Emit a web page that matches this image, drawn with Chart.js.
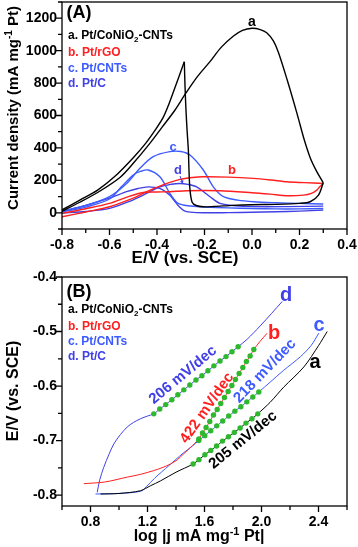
<!DOCTYPE html>
<html>
<head>
<meta charset="utf-8">
<script src="https://cdn.jsdelivr.net/npm/chart.js@4.4.1/dist/chart.umd.min.js"></script>
<style>
  html, body { margin: 0; padding: 0; background: #fff; }
  #wrap { position: relative; width: 358px; height: 547px; }
  .box { position: absolute; left: 0; width: 358px; }
  #boxA { top: 0; height: 268px; }
  #boxB { top: 268px; height: 279px; }
</style>
</head>
<body>
<div id="wrap">
  <div class="box" id="boxA"><canvas id="cvA"></canvas></div>
  <div class="box" id="boxB"><canvas id="cvB"></canvas></div>
</div>
<script>
'use strict';

const FONT = '"Liberation Sans", Arial, sans-serif';
const RED = '#ff1f1f', BLUE_C = '#3d5bff', BLUE_D = '#4040e6', GREEN = '#2eb82e';

/* ── (A) CV curves: E (V vs. SCE) and j (mA mg-1 Pt) ── */
const aFwdE = [-0.8, -0.725, -0.65, -0.556, -0.5, -0.43, -0.38, -0.324, -0.278, -0.23, -0.177, -0.13, -0.078, -0.04, 0.0, 0.035, 0.062, 0.09, 0.111, 0.147, 0.189, 0.22, 0.245, 0.27, 0.3];
const aFwdJ = [10, 65, 125, 218, 305, 428, 525, 634, 739, 840, 932, 1020, 1090, 1125, 1138, 1130, 1110, 1060, 990, 825, 615, 450, 340, 262, 185];
const aRevE = [0.3, 0.28, 0.245, 0.2, 0.1, 0.0, -0.08, -0.16, -0.205, -0.235, -0.252, -0.261, -0.265, -0.268, -0.273, -0.278, -0.282, -0.285];
const aRevJ = [185, 109, 68, 58, 52, 50, 46, 39, 37, 45, 65, 140, 250, 387, 500, 634, 780, 932];
const aTailE = [-0.285, -0.305, -0.325, -0.35, -0.375, -0.41, -0.447, -0.5, -0.577, -0.65, -0.725, -0.8];
const aTailJ = [932, 850, 770, 670, 585, 505, 430, 340, 225, 140, 78, 18];

const bFwdE = [-0.8, -0.7, -0.6, -0.5, -0.458, -0.388, -0.303, -0.25, -0.205, -0.1, 0.006, 0.08, 0.147, 0.22, 0.3];
const bFwdJ = [-25, 5, 37, 90, 120, 165, 206, 218, 222, 220, 212, 202, 191, 186, 181];
const bRevE = [0.3, 0.285, 0.273, 0.25, 0.217, 0.15, 0.076, 0.0, -0.135, -0.275, -0.346, -0.4, -0.458, -0.52, -0.6, -0.7, -0.8];
const bRevJ = [181, 160, 140, 120, 109, 105, 115, 124, 136, 136, 130, 128, 125, 100, 58, 25, -4];

const cFwdE = [-0.8, -0.7, -0.6, -0.528, -0.472, -0.416, -0.346, -0.3, -0.26, -0.205, -0.163, -0.12, -0.06, 0.006, 0.1, 0.2, 0.3];
const cFwdJ = [10, 45, 100, 181, 274, 346, 377, 378, 355, 264, 160, 99, 78, 68, 62, 58, 54];
const cRevE = [0.3, 0.2, 0.1, 0.0, -0.1, -0.2, -0.26, -0.29, -0.315, -0.346, -0.388, -0.437, -0.47, -0.5, -0.55, -0.6, -0.7, -0.8];
const cRevJ = [27, 24, 24, 26, 30, 36, 42, 48, 62, 120, 222, 264, 255, 233, 160, 85, 35, 5];

const dFwdE = [-0.8, -0.7, -0.6, -0.5, -0.458, -0.388, -0.34, -0.303, -0.27, -0.233, -0.2, -0.177, -0.135, -0.08, 0.006, 0.15, 0.3];
const dFwdJ = [-2, 8, 27, 80, 109, 160, 176, 181, 175, 160, 125, 99, 58, 45, 38, 38, 41];
const dRevE = [0.3, 0.2, 0.1, 0.0, -0.1, -0.205, -0.26, -0.285, -0.305, -0.33, -0.346, -0.388, -0.437, -0.48, -0.528, -0.6, -0.7, -0.8];
const dRevJ = [17, 10, 6, 3, 1, 0, 4, 12, 35, 80, 109, 150, 160, 150, 130, 90, 45, 8];

const aXTicks = [-0.8, -0.6, -0.4, -0.2, 0.0, 0.2, 0.4];
const aYTicks = [0, 200, 400, 600, 800, 1000, 1200];

/* ── (B) Tafel plots: log|j| and E (V vs. SCE); dots = fitted region ── */
const taAPreX = [0.87, 1.0, 1.151, 1.22, 1.291, 1.40];
const taAPreY = [-0.798, -0.797, -0.792, -0.783, -0.774, -0.758];
const taADotX = [1.52, 1.561, 1.603, 1.644, 1.685, 1.726, 1.768, 1.809, 1.85, 1.891, 1.933, 1.974];
const taADotY = [-0.743, -0.735, -0.726, -0.718, -0.710, -0.701, -0.693, -0.685, -0.677, -0.668, -0.660, -0.651];
const taAPostX = [2.06, 2.156, 2.297, 2.40, 2.461];
const taAPostY = [-0.630, -0.602, -0.565, -0.526, -0.500];

const taBPreX = [0.753, 0.9, 1.058, 1.15, 1.244, 1.31, 1.361, 1.41, 1.455, 1.5];
const taBPreY = [-0.779, -0.776, -0.767, -0.762, -0.755, -0.749, -0.743, -0.735, -0.724, -0.713];
const taBDotX = [1.56, 1.586, 1.611, 1.637, 1.663, 1.689, 1.714, 1.74, 1.766, 1.792, 1.817, 1.843, 1.869, 1.894, 1.92, 1.946];
const taBDotY = [-0.697, -0.686, -0.676, -0.665, -0.653, -0.643, -0.632, -0.621, -0.610, -0.599, -0.588, -0.577, -0.566, -0.555, -0.545, -0.533];
const taBPostX = [1.99, 2.04];
const taBPostY = [-0.518, -0.503];

const taCPreX = [0.835, 1.0, 1.151, 1.19, 1.25, 1.35, 1.45, 1.51];
const taCPreY = [-0.798, -0.797, -0.793, -0.785, -0.769, -0.746, -0.723, -0.711];
const taCDotX = [1.56, 1.602, 1.644, 1.686, 1.728, 1.77, 1.813, 1.855, 1.897, 1.939, 1.981];
const taCDotY = [-0.700, -0.691, -0.682, -0.673, -0.664, -0.655, -0.646, -0.638, -0.629, -0.620, -0.611];
const taCPostX = [2.06, 2.156, 2.274, 2.35, 2.402];
const taCPostY = [-0.593, -0.571, -0.546, -0.525, -0.503];

const taDPreX = [0.847, 0.865, 0.893, 0.93, 0.964, 1.01, 1.058, 1.10, 1.151, 1.20];
const taDPreY = [-0.795, -0.772, -0.749, -0.725, -0.706, -0.689, -0.675, -0.667, -0.660, -0.655];
const taDDotX = [1.244, 1.286, 1.328, 1.371, 1.413, 1.455, 1.497, 1.54, 1.582, 1.624, 1.666, 1.709, 1.751, 1.793, 1.836];
const taDDotY = [-0.651, -0.642, -0.634, -0.625, -0.616, -0.607, -0.598, -0.589, -0.581, -0.572, -0.563, -0.554, -0.546, -0.537, -0.528];
const taDPostX = [1.90, 1.99, 2.07, 2.145];
const taDPostY = [-0.514, -0.490, -0.467, -0.445];

const bXTicks = [0.8, 1.2, 1.6, 2.0, 2.4];
const bYTicks = [-0.8, -0.7, -0.6, -0.5, -0.4];

const legendParts = [
  [['a. Pt/CoNiO', ''], ['2', 'sub'], ['-CNTs', '']],
  [['b. Pt/rGO', '']],
  [['c. Pt/CNTs', '']],
  [['d. Pt/C', '']]
];
const legendColors = ['#000', RED, BLUE_C, BLUE_D];

Chart.defaults.font.family = FONT;
Chart.defaults.font.weight = 'bold';
Chart.defaults.color = '#000';

const pts = (xs, ys) => xs.map((v, i) => ({ x: v, y: ys[i] }));
const line = (xs, ys, color, width) => ({
  data: pts(xs, ys), borderColor: color, borderWidth: width, showLine: true,
  pointRadius: 0, tension: 0.3, fill: false, order: 1
});
const dots = (xs, ys) => ({
  data: pts(xs, ys), showLine: false, pointRadius: 2.7,
  pointBackgroundColor: GREEN, pointBorderWidth: 0, order: 0
});

function drawRich(ctx, parts, x, y, size, color, align) {
  const big = `bold ${size}px ${FONT}`;
  const small = `bold ${Math.round(size * 0.66)}px ${FONT}`;
  let w = 0;
  parts.forEach(([t, k]) => { ctx.font = k ? small : big; w += ctx.measureText(t).width; });
  let cx = align === 'center' ? x - w / 2 : x;
  ctx.fillStyle = color;
  ctx.textAlign = 'left';
  ctx.textBaseline = 'middle';
  parts.forEach(([t, k]) => {
    ctx.font = k ? small : big;
    const dy = k === 'sup' ? -size * 0.32 : k === 'sub' ? size * 0.3 : 0;
    ctx.fillText(t, cx, y + dy);
    cx += ctx.measureText(t).width;
  });
}

/* Frame round the plot plus outward major/minor ticks. */
const frame = {
  id: 'frame',
  afterDraw(chart, args, o) {
    const { ctx, chartArea: a, scales: { x, y } } = chart;
    ctx.save();
    ctx.strokeStyle = '#000';
    ctx.lineWidth = 1.3;
    ctx.strokeRect(a.left, a.top, a.right - a.left, a.bottom - a.top);
    ctx.beginPath();
    const rx = Math.round(o.xMajor / o.xStep), ry = Math.round(o.yMajor / o.yStep);
    for (let i = Math.ceil(x.min / o.xStep - 1e-6); i * o.xStep <= x.max + 1e-9; i++) {
      const px = x.getPixelForValue(i * o.xStep);
      ctx.moveTo(px, a.bottom);
      ctx.lineTo(px, a.bottom + (i % rx === 0 ? 6 : 4));
    }
    for (let i = Math.ceil(y.min / o.yStep - 1e-6); i * o.yStep <= y.max + 1e-9; i++) {
      const py = y.getPixelForValue(i * o.yStep);
      ctx.moveTo(a.left, py);
      ctx.lineTo(a.left - (i % ry === 0 ? 6 : 4), py);
    }
    ctx.stroke();
    ctx.restore();
  }
};

/* Titles, legend texts and curve labels. */
const notes = {
  id: 'notes',
  afterDraw(chart, args, o) {
    const ctx = chart.ctx;
    ctx.save();
    o.items.forEach(it => {
      ctx.save();
      ctx.translate(it.x, it.y);
      if (it.angle) ctx.rotate(it.angle * Math.PI / 180);
      drawRich(ctx, it.parts, 0, 0, it.size, it.color || '#000', it.align || 'center');
      ctx.restore();
    });
    if (o.arrow) {
      const [x1, y1, x2, y2] = o.arrow;
      ctx.strokeStyle = BLUE_D; ctx.fillStyle = BLUE_D; ctx.lineWidth = 1;
      ctx.beginPath(); ctx.moveTo(x1, y1); ctx.lineTo(x2, y2); ctx.stroke();
      const ang = Math.atan2(y2 - y1, x2 - x1);
      ctx.beginPath();
      ctx.moveTo(x2, y2);
      ctx.lineTo(x2 - 4 * Math.cos(ang - 0.45), y2 - 4 * Math.sin(ang - 0.45));
      ctx.lineTo(x2 - 4 * Math.cos(ang + 0.45), y2 - 4 * Math.sin(ang + 0.45));
      ctx.fill();
    }
    ctx.restore();
  }
};

function xAxis(min, max, ticks, height) {
  return {
    type: 'linear', min, max,
    grid: { display: false, drawTicks: false }, border: { display: false },
    ticks: { font: { size: 14, weight: 'bold' }, color: '#000', padding: 7.5, maxRotation: 0, autoSkip: false, callback: v => v.toFixed(1) },
    afterBuildTicks: s => { s.ticks = ticks.map(v => ({ value: v })); },
    afterFit: s => { s.height = height; s.paddingLeft = 0; s.paddingRight = 0; }
  };
}
function yAxis(min, max, ticks, fmt) {
  return {
    type: 'linear', min, max,
    grid: { display: false, drawTicks: false }, border: { display: false },
    ticks: { font: { size: 14, weight: 'bold' }, color: '#000', padding: 5, autoSkip: false, callback: fmt },
    afterBuildTicks: s => { s.ticks = ticks.map(v => ({ value: v })); },
    afterFit: s => { s.width = 62; s.paddingTop = 0; s.paddingBottom = 0; }
  };
}

const legendItems = (y0, gaps) => legendParts.map((p, i) => ({
  parts: p, x: 68, y: y0 + gaps[i], size: 12, color: legendColors[i], align: 'left'
}));

new Chart(document.getElementById('cvA'), {
  type: 'scatter',
  plugins: [frame, notes],
  data: {
    datasets: [
      line(aFwdE, aFwdJ, '#000', 1.4), line(aRevE, aRevJ, '#000', 1.4), line(aTailE, aTailJ, '#000', 1.4),
      line(bFwdE, bFwdJ, RED, 1.4), line(bRevE, bRevJ, RED, 1.4),
      line(cFwdE, cFwdJ, BLUE_C, 1.4), line(cRevE, cRevJ, BLUE_C, 1.4),
      line(dFwdE, dFwdJ, BLUE_D, 1.4), line(dRevE, dRevJ, BLUE_D, 1.4)
    ]
  },
  options: {
    responsive: true, maintainAspectRatio: false, animation: false, events: [],
    layout: { padding: { left: 0, right: 11, top: 2, bottom: 0 } },
    scales: { x: xAxis(-0.8, 0.4, aXTicks, 39), y: yAxis(-100, 1300, aYTicks, v => String(v)) },
    plugins: {
      legend: { display: false }, tooltip: { enabled: false },
      frame: { xStep: 0.1, xMajor: 0.2, yStep: 100, yMajor: 200 },
      notes: {
        arrow: [180, 176, 183, 184],
        items: [
          { parts: [['(A)', '']], x: 79, y: 13, size: 18 },
          ...legendItems(36, [0, 17, 33, 48]),
          { parts: [['a', '']], x: 252, y: 22, size: 14 },
          { parts: [['b', '']], x: 232, y: 170, size: 13, color: RED },
          { parts: [['c', '']], x: 173, y: 147, size: 13, color: BLUE_C },
          { parts: [['d', '']], x: 178, y: 170, size: 13, color: BLUE_D },
          { parts: [['E/V (vs. SCE)', '']], x: 185, y: 258, size: 17 },
          { parts: [['Current density (mA mg', ''], ['-1', 'sup'], [' Pt)', '']], x: 14, y: 108, size: 15, angle: -90 }
        ]
      }
    }
  }
});

new Chart(document.getElementById('cvB'), {
  type: 'scatter',
  plugins: [frame, notes],
  data: {
    datasets: [
      dots(taADotX, taADotY), dots(taBDotX, taBDotY), dots(taCDotX, taCDotY), dots(taDDotX, taDDotY),
      line([...taAPreX, ...taADotX, ...taAPostX], [...taAPreY, ...taADotY, ...taAPostY], '#000', 1),
      line([...taBPreX, ...taBDotX, ...taBPostX], [...taBPreY, ...taBDotY, ...taBPostY], RED, 1),
      line([...taCPreX, ...taCDotX, ...taCPostX], [...taCPreY, ...taCDotY, ...taCPostY], BLUE_C, 1),
      line([...taDPreX, ...taDDotX, ...taDPostX], [...taDPreY, ...taDDotY, ...taDPostY], BLUE_D, 1)
    ]
  },
  options: {
    responsive: true, maintainAspectRatio: false, animation: false, events: [],
    layout: { padding: { left: 0, right: 11, top: 9, bottom: 0 } },
    scales: { x: xAxis(0.6, 2.6, bXTicks, 41), y: yAxis(-0.82, -0.4, bYTicks, v => v.toFixed(1)) },
    plugins: {
      legend: { display: false }, tooltip: { enabled: false },
      frame: { xStep: 0.2, xMajor: 0.4, yStep: 0.05, yMajor: 0.1 },
      notes: {
        items: [
          { parts: [['(B)', '']], x: 79, y: 24, size: 18 },
          ...legendItems(42, [0, 17, 32, 47]),
          { parts: [['d', '']], x: 286, y: 27, size: 20, color: BLUE_D },
          { parts: [['b', '']], x: 274, y: 65, size: 20, color: RED },
          { parts: [['c', '']], x: 319, y: 57, size: 20, color: BLUE_C },
          { parts: [['a', '']], x: 315, y: 94, size: 20 },
          { parts: [['206 mV/dec', '']], x: 183, y: 107, size: 15, color: BLUE_D, angle: -39.5 },
          { parts: [['422 mV/dec', '']], x: 207, y: 140, size: 15, color: RED, angle: -55 },
          { parts: [['218 mV/dec', '']], x: 265, y: 103, size: 15, color: BLUE_C, angle: -46 },
          { parts: [['205 mV/dec', '']], x: 243, y: 172, size: 15, angle: -39 },
          { parts: [['log |j mA mg', ''], ['-1', 'sup'], [' Pt|', '']], x: 199, y: 269, size: 16 },
          { parts: [['E/V (vs. SCE)', '']], x: 14, y: 123, size: 16, angle: -90 }
        ]
      }
    }
  }
});
</script>
</body>
</html>
